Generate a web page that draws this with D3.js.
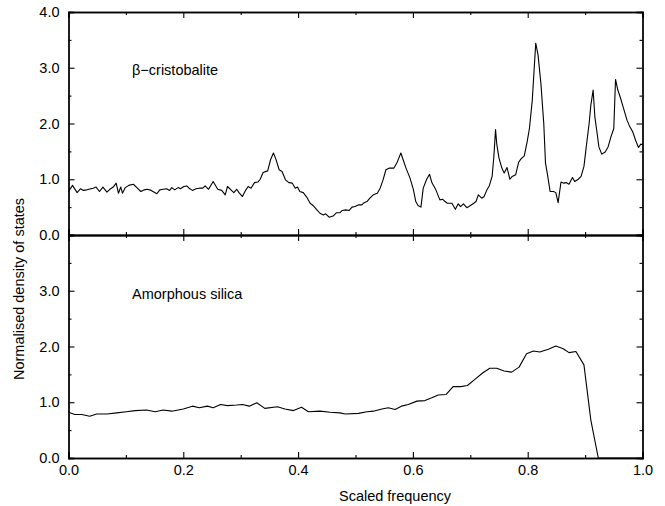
<!DOCTYPE html>
<html>
<head>
<meta charset="utf-8">
<script src="https://cdn.jsdelivr.net/npm/d3@7"></script>
<style>
  body { margin: 0; background: #fff; }
  svg text { font-family: "Liberation Sans", Arial, sans-serif; }
</style>
</head>
<body>
<svg id="chart" width="665" height="506"></svg>
<script>
// beta-cristobalite density of states (top panel)
const betaFreq = [0.000, 0.007, 0.015, 0.021, 0.026, 0.032, 0.039, 0.043, 0.048, 0.054,
  0.060, 0.067, 0.072, 0.078, 0.083, 0.087, 0.091, 0.094, 0.099, 0.105,
  0.113, 0.120, 0.126, 0.132, 0.137, 0.144, 0.154, 0.159, 0.165, 0.171,
  0.176, 0.180, 0.185, 0.191, 0.195, 0.201, 0.206, 0.210, 0.216, 0.222,
  0.228, 0.234, 0.238, 0.244, 0.252, 0.260, 0.267, 0.273, 0.277, 0.283,
  0.288, 0.293, 0.297, 0.303, 0.309, 0.313, 0.318, 0.324, 0.330, 0.334,
  0.339, 0.347, 0.352, 0.357, 0.361, 0.367, 0.372, 0.378, 0.384, 0.390,
  0.395, 0.399, 0.403, 0.409, 0.415, 0.421, 0.426, 0.432, 0.438, 0.444,
  0.448, 0.454, 0.461, 0.467, 0.473, 0.477, 0.483, 0.489, 0.494, 0.499,
  0.505, 0.511, 0.515, 0.520, 0.525, 0.531, 0.538, 0.543, 0.548, 0.553,
  0.559, 0.567, 0.572, 0.579, 0.583, 0.588, 0.595, 0.601, 0.605, 0.609,
  0.614, 0.618, 0.624, 0.629, 0.633, 0.640, 0.647, 0.652, 0.656, 0.660,
  0.668, 0.674, 0.679, 0.683, 0.688, 0.694, 0.699, 0.706, 0.710, 0.714,
  0.720, 0.724, 0.729, 0.733, 0.738, 0.741, 0.744, 0.746, 0.750, 0.755,
  0.759, 0.764, 0.769, 0.773, 0.779, 0.784, 0.788, 0.794, 0.799, 0.803,
  0.808, 0.814, 0.818, 0.823, 0.828, 0.831, 0.835, 0.839, 0.845, 0.849,
  0.853, 0.858, 0.863, 0.867, 0.872, 0.878, 0.882, 0.888, 0.893, 0.898,
  0.902, 0.907, 0.910, 0.914, 0.917, 0.921, 0.924, 0.929, 0.935, 0.940,
  0.945, 0.950, 0.953, 0.957, 0.961, 0.967, 0.973, 0.978, 0.983, 0.988,
  0.993, 0.997, 1.000];
const betaDos = [0.78, 0.89, 0.76, 0.83, 0.80, 0.81, 0.83, 0.84, 0.86, 0.78,
  0.86, 0.77, 0.82, 0.86, 0.93, 0.75, 0.86, 0.75, 0.85, 0.89,
  0.91, 0.84, 0.78, 0.81, 0.82, 0.80, 0.74, 0.81, 0.82, 0.83,
  0.80, 0.85, 0.81, 0.85, 0.83, 0.87, 0.88, 0.84, 0.80, 0.83,
  0.84, 0.84, 0.88, 0.82, 0.96, 0.82, 0.80, 0.72, 0.87, 0.81,
  0.76, 0.82, 0.76, 0.69, 0.81, 0.87, 0.84, 0.94, 0.95, 1.00,
  1.12, 1.15, 1.35, 1.47, 1.37, 1.17, 1.14, 0.99, 0.94, 0.93,
  0.84, 0.86, 0.78, 0.76, 0.68, 0.57, 0.53, 0.46, 0.39, 0.36,
  0.38, 0.32, 0.34, 0.40, 0.40, 0.44, 0.45, 0.44, 0.50, 0.51,
  0.54, 0.54, 0.58, 0.60, 0.66, 0.72, 0.75, 0.84, 0.99, 1.17,
  1.20, 1.20, 1.29, 1.47, 1.35, 1.20, 1.02, 0.81, 0.60, 0.53,
  0.50, 0.84, 1.00, 1.09, 0.94, 0.81, 0.63, 0.64, 0.60, 0.57,
  0.57, 0.46, 0.56, 0.51, 0.56, 0.49, 0.52, 0.57, 0.60, 0.72,
  0.66, 0.69, 0.81, 0.88, 1.05, 1.40, 1.89, 1.64, 1.38, 1.20,
  1.11, 1.21, 1.00, 1.05, 1.08, 1.30, 1.36, 1.42, 1.67, 1.91,
  2.42, 3.44, 3.23, 2.72, 2.00, 1.29, 1.05, 0.78, 0.78, 0.76,
  0.58, 0.95, 0.93, 0.94, 0.91, 1.03, 0.96, 1.00, 1.05, 1.23,
  1.58, 2.00, 2.33, 2.60, 2.12, 1.82, 1.58, 1.45, 1.49, 1.58,
  1.76, 1.91, 2.79, 2.60, 2.48, 2.27, 2.06, 1.94, 1.85, 1.70,
  1.57, 1.63, 1.62];

// amorphous silica density of states (bottom panel)
const silicaFreq = [0.000, 0.011, 0.023, 0.037, 0.049, 0.067, 0.084, 0.101, 0.116, 0.136,
  0.151, 0.165, 0.180, 0.200, 0.216, 0.228, 0.242, 0.252, 0.265, 0.277,
  0.293, 0.303, 0.315, 0.328, 0.342, 0.364, 0.377, 0.392, 0.406, 0.418,
  0.438, 0.456, 0.473, 0.482, 0.505, 0.520, 0.531, 0.546, 0.557, 0.569,
  0.580, 0.592, 0.607, 0.621, 0.633, 0.644, 0.658, 0.670, 0.683, 0.695,
  0.708, 0.722, 0.734, 0.746, 0.759, 0.772, 0.785, 0.798, 0.810, 0.821,
  0.836, 0.849, 0.862, 0.872, 0.884, 0.898, 0.910, 0.923, 1.000];
const silicaDos = [0.82, 0.78, 0.78, 0.75, 0.79, 0.79, 0.81, 0.83, 0.85, 0.86,
  0.83, 0.86, 0.84, 0.88, 0.93, 0.90, 0.93, 0.90, 0.96, 0.94,
  0.95, 0.96, 0.93, 0.99, 0.89, 0.92, 0.88, 0.85, 0.91, 0.83,
  0.84, 0.82, 0.81, 0.79, 0.80, 0.83, 0.84, 0.88, 0.90, 0.87,
  0.93, 0.96, 1.02, 1.03, 1.08, 1.13, 1.14, 1.28, 1.28, 1.30,
  1.41, 1.53, 1.61, 1.61, 1.56, 1.54, 1.63, 1.87, 1.92, 1.90,
  1.95, 2.01, 1.96, 1.89, 1.91, 1.67, 0.68, 0.00, 0.00];

const xMajor = [0, 0.2, 0.4, 0.6, 0.8, 1.0];
const xMinor = [0.1, 0.3, 0.5, 0.7, 0.9];
const yMajor = [0, 1, 2, 3, 4];
const yMinor = [0.5, 1.5, 2.5, 3.5];

const svg = d3.select("#chart");
const left = 68.5, right = 642.5;
const x = d3.scaleLinear().domain([0, 1]).range([left, right]);

const panels = [
  {top: 12, bottom: 235, freq: betaFreq, dos: betaDos, name: "β−cristobalite", nameY: 75, yLabels: [0, 1, 2, 3, 4], xLabels: false},
  {top: 235, bottom: 458, freq: silicaFreq, dos: silicaDos, name: "Amorphous silica", nameY: 299, yLabels: [0, 1, 2, 3], xLabels: true}
];

function styleAxis(g) {
  g.select(".domain").attr("stroke", "#000").attr("stroke-width", 1.3);
  g.selectAll(".tick line").attr("stroke", "#000").attr("stroke-width", 1.1);
  g.selectAll("text").attr("font-size", "14.5px").attr("fill", "#000")
    .attr("font-family", '"Liberation Sans", Arial, sans-serif');
}

panels.forEach(p => {
  const y = d3.scaleLinear().domain([0, 4]).range([p.bottom, p.top]);

  // minor ticks first, then major axes with labels
  svg.append("g").attr("transform", `translate(0,${p.bottom})`)
    .call(d3.axisBottom(x).tickValues(xMinor).tickSize(-3).tickFormat(""))
    .call(styleAxis);
  svg.append("g").attr("transform", `translate(0,${p.top})`)
    .call(d3.axisTop(x).tickValues(xMinor).tickSize(-3).tickFormat(""))
    .call(styleAxis);
  svg.append("g").attr("transform", `translate(${left},0)`)
    .call(d3.axisLeft(y).tickValues(yMinor).tickSize(-3).tickFormat(""))
    .call(styleAxis);
  svg.append("g").attr("transform", `translate(${right},0)`)
    .call(d3.axisRight(y).tickValues(yMinor).tickSize(-3).tickFormat(""))
    .call(styleAxis);

  svg.append("g").attr("transform", `translate(0,${p.bottom})`)
    .call(d3.axisBottom(x).tickValues(xMajor).tickSize(-6).tickPadding(7)
      .tickFormat(p.xLabels ? d3.format(".1f") : ""))
    .call(styleAxis);
  svg.append("g").attr("transform", `translate(0,${p.top})`)
    .call(d3.axisTop(x).tickValues(xMajor).tickSize(-6).tickFormat(""))
    .call(styleAxis);
  svg.append("g").attr("transform", `translate(${left},0)`)
    .call(d3.axisLeft(y).tickValues(yMajor).tickSize(-6).tickPadding(9)
      .tickFormat(d => p.yLabels.includes(d) ? d3.format(".1f")(d) : ""))
    .call(styleAxis);
  svg.append("g").attr("transform", `translate(${right},0)`)
    .call(d3.axisRight(y).tickValues(yMajor).tickSize(-6).tickFormat(""))
    .call(styleAxis);

  const pts = p.freq.map((f, i) => [f, p.dos[i]]);
  const line = d3.line().x(d => x(d[0])).y(d => y(d[1]));
  svg.append("path")
    .datum(pts)
    .attr("d", line)
    .attr("fill", "none")
    .attr("stroke", "#000")
    .attr("stroke-width", 1.1)
    .attr("stroke-linejoin", "round");

  svg.append("text")
    .attr("x", 132)
    .attr("y", p.nameY)
    .attr("font-size", "14.5px")
    .text(p.name);
});

svg.append("text")
  .attr("x", 395)
  .attr("y", 501)
  .attr("text-anchor", "middle")
  .attr("font-size", "14.5px")
  .text("Scaled frequency");

svg.append("text")
  .attr("transform", "translate(24,289) rotate(-90)")
  .attr("text-anchor", "middle")
  .attr("font-size", "14.5px")
  .text("Normalised density of states");
</script>
</body>
</html>
